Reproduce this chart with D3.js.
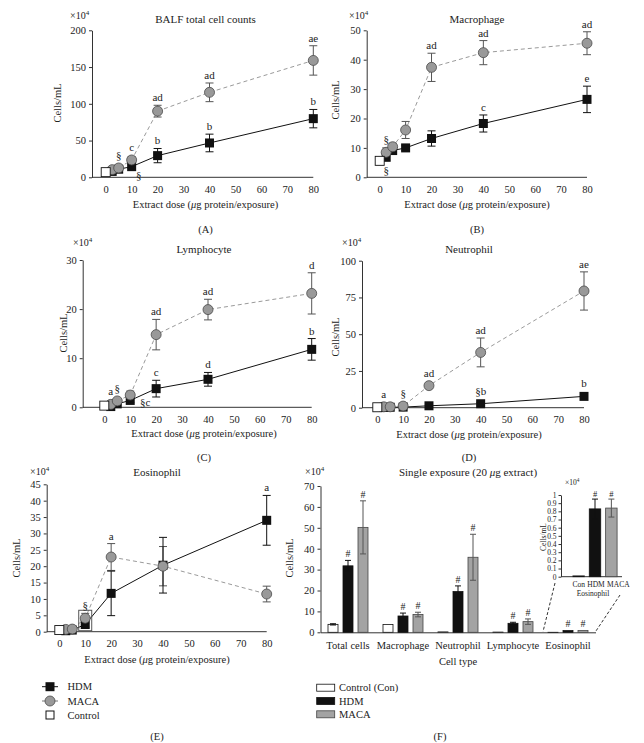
<!DOCTYPE html>
<html><head><meta charset="utf-8">
<script src="https://cdn.jsdelivr.net/npm/d3@7"></script>
<style>
body{margin:0;background:#fff}
svg text{font-family:"Liberation Serif","Times New Roman",serif;fill:#222}
</style>
</head><body>
<svg id="c" width="644" height="743"></svg>
<script>
// ---------- data ----------
const doses = [2.5, 5, 10, 20, 40, 80];
const doseTicks = [0, 10, 20, 30, 40, 50, 60, 70, 80];

// (A) BALF total cell counts
const totalControl = 7;
const totalHDM = [8, 11, 14.5, 29.5, 46.7, 79.8];
const totalHDMErr = [1, 1.5, 2.5, 9.7, 12, 12.5];
const totalMACA = [10.4, 12.7, 23.6, 90, 115.6, 159];
const totalMACAErr = [1.5, 2, 4.5, 8, 12.7, 20];
const totalMACALabels = ["", "§", "c", "ad", "ad", "ae"];
const totalHDMLabels = ["", "", "", "b", "b", "b"];
const totalHDMBelow = ["", "", "§", "", "", ""];
const totalTicks = [0, 50, 100, 150, 200];

// (B) Macrophage
const macroControl = 5.6;
const macroHDM = [6.8, 9.1, 10, 13.2, 18.3, 26.5];
const macroHDMErr = [1, 0.8, 0.9, 2.6, 2.9, 4.5];
const macroMACA = [8.5, 10.4, 16.1, 37.4, 42.4, 45.6];
const macroMACAErr = [1.5, 1.2, 2.9, 4.8, 4.1, 3.9];
const macroMACALabels = ["§", "", "", "ad", "ad", "ad"];
const macroHDMLabels = ["", "", "", "", "c", "e"];
const macroHDMBelow = ["§", "", "", "", "", ""];
const macroTicks = [0, 10, 20, 30, 40, 50];

// (C) Lymphocyte
const lymphoControl = 0.34;
const lymphoHDM = [0.15, 0.7, 1.4, 3.8, 5.7, 11.8];
const lymphoHDMErr = [0.1, 0.2, 0.4, 1.7, 1.4, 2.2];
const lymphoMACA = [0.6, 1.3, 2.5, 14.8, 19.9, 23.2];
const lymphoMACAErr = [0.2, 0.4, 0.8, 3.1, 2.1, 4.2];
const lymphoMACALabels = ["a", "§", "", "ad", "ad", "d"];
const lymphoHDMLabels = ["", "", "", "c", "d", "b"];
const lymphoHDMBelow = ["", "", "§c", "", "", ""];
const lymphoTicks = [0, 10, 20, 30];

// (D) Neutrophil
const neutroControl = 0.3;
const neutroHDM = [0.2, 0.3, 0.4, 1.3, 2.7, 7.7];
const neutroHDMErr = [0.1, 0.1, 0.2, 0.4, 0.8, 1];
const neutroMACA = [0.6, 0.6, 1.1, 15, 37.6, 79.4];
const neutroMACAErr = [0.2, 0.2, 0.4, 1.5, 9.8, 13];
const neutroMACALabels = ["a", "", "§", "ad", "ad", "ae"];
const neutroHDMLabels = ["", "", "", "", "§b", "b"];
const neutroHDMBelow = ["", "", "", "", "", ""];
const neutroTicks = [0, 25, 50, 75, 100];

// (E) Eosinophil
const eosControl = 0.5;
const eosHDM = [0.3, 0.5, 2.2, 11.7, 20.3, 34];
const eosHDMErr = [0.1, 0.1, 0.8, 6.8, 8.5, 7.6];
const eosMACA = [0.7, 0.8, 4.1, 22.8, 20, 11.5];
const eosMACAErr = [0.2, 0.2, 1.5, 4.1, 6, 2.4];
const eosMACALabels = ["", "", "§", "a", "", ""];
const eosHDMLabels = ["", "", "", "", "", "a"];
const eosHDMBelow = ["", "", "", "", "", ""];
const eosTicks = [0, 5, 10, 15, 20, 25, 30, 35, 40, 45];

// (F) Single exposure (20 µg extract)
const cellTypes = ["Total cells", "Macrophage", "Neutrophil", "Lymphocyte", "Eosinophil"];
const singleControl = [3.8, 3.7, 0.2, 0.1, 0.01];
const singleControlErr = [0.3, 0.2, 0.05, 0.03, 0.005];
const singleHDM = [31.8, 7.8, 19.5, 4.3, 0.83];
const singleHDMErr = [2.6, 1.4, 2.7, 0.5, 0.12];
const singleMACA = [50.2, 8.5, 35.9, 5.1, 0.84];
const singleMACAErr = [12.7, 1.1, 11, 1.3, 0.11];
const singleTicks = [0, 10, 20, 30, 40, 50, 60, 70];
const insetGroups = ["Con", "HDM", "MACA"];
const insetValues = [0.01, 0.83, 0.84];
const insetErr = [0, 0.12, 0.11];
const insetTicks = [0, 0.1, 0.2, 0.3, 0.4, 0.5, 0.6, 0.7, 0.8, 0.9, 1];

// ---------- drawing ----------
const svg = d3.select("#c");
const AX = "#333";
const GRAYFILL = "#999";
const GRAYSTROKE = "#4a4a4a";
const FS = 10.5;

function txt(g, s, x, y, size, anchor, rot) {
  const t = g.append("text").attr("x", x).attr("y", y).attr("font-size", size)
    .attr("text-anchor", anchor || "middle").text(s);
  if (rot) t.attr("transform", `rotate(-90,${x},${y})`);
  return t;
}
function times10(g, x, y, size) {
  const t = g.append("text").attr("x", x).attr("y", y).attr("font-size", size).attr("text-anchor", "start");
  t.append("tspan").text("×10");
  t.append("tspan").attr("font-size", size * 0.7).attr("dy", -size * 0.4).text("4");
}
function styleAxis(a, size) {
  a.attr("font-family", null).attr("font-size", size);
  a.selectAll("line").attr("stroke", AX);
  a.selectAll("path").attr("stroke", AX);
  a.selectAll("text").attr("fill", "#222");
}

function linePanel(o) {
  const g = svg.append("g");
  const x = d3.scaleLinear().domain([0, 80]).range([o.x0, o.x1]);
  const y = d3.scaleLinear().domain([0, o.ticks[o.ticks.length - 1]]).range([o.y0, o.y1]);

  const ya = g.append("g").attr("transform", `translate(${o.ax},0)`)
    .call(d3.axisLeft(y).tickValues(o.ticks).tickSize(3).tickPadding(3).tickSizeOuter(0));
  styleAxis(ya, FS);
  const xa = g.append("g").attr("transform", `translate(0,${o.y0})`)
    .call(d3.axisBottom(x).tickValues(doseTicks).tickSize(0).tickPadding(8));
  xa.select(".domain").remove();
  styleAxis(xa, FS);
  g.append("line").attr("x1", o.ax).attr("x2", o.x1).attr("y1", o.y0).attr("y2", o.y0).attr("stroke", AX);

  const hdm = doses.map((d, i) => ({d, v: o.hdm[i], e: o.hdmErr[i]}));
  const maca = doses.map((d, i) => ({d, v: o.maca[i], e: o.macaErr[i]}));
  const line = d3.line().x(p => x(p.d)).y(p => y(p.v));

  g.append("path").attr("d", line(maca)).attr("fill", "none").attr("stroke", "#9a9a9a")
    .attr("stroke-width", 1).attr("stroke-dasharray", "4,3");
  g.append("path").attr("d", line(hdm)).attr("fill", "none").attr("stroke", "#111").attr("stroke-width", 1);

  function errbars(data, color) {
    data.forEach(p => {
      if (p.e <= 0) return;
      const cx = x(p.d), ya1 = y(p.v + p.e), ya2 = y(Math.max(0, p.v - p.e));
      g.append("line").attr("x1", cx).attr("x2", cx).attr("y1", ya1).attr("y2", ya2).attr("stroke", color);
      [ya1, ya2].forEach(yy => g.append("line").attr("x1", cx - 4).attr("x2", cx + 4)
        .attr("y1", yy).attr("y2", yy).attr("stroke", color));
    });
  }
  errbars(maca, "#555");
  errbars(hdm, "#111");

  if (o.box) {
    const bx = x(10), by = y(o.maca[2]);
    g.append("rect").attr("x", bx - 6.5).attr("y", by - 8).attr("width", 13).attr("height", y(0) - by + 7)
      .attr("fill", "none").attr("stroke", "#555").attr("stroke-width", 1);
  }

  g.selectAll(null).data(hdm).join("rect")
    .attr("x", p => x(p.d) - 4.5).attr("y", p => y(p.v) - 4.5).attr("width", 9).attr("height", 9)
    .attr("fill", "#111");
  g.selectAll(null).data(maca).join("circle")
    .attr("cx", p => x(p.d)).attr("cy", p => y(p.v)).attr("r", 5)
    .attr("fill", GRAYFILL).attr("stroke", GRAYSTROKE).attr("stroke-width", 0.8);
  g.append("rect").attr("x", x(0) - 4.5).attr("y", y(o.control) - 4.5).attr("width", 9).attr("height", 9)
    .attr("fill", "#fff").attr("stroke", "#111").attr("stroke-width", 0.9);

  function above(data, labels) {
    data.forEach((p, i) => {
      if (!labels[i]) return;
      const top = Math.min(y(p.v + p.e), y(p.v) - 5);
      txt(g, labels[i], x(p.d), top - 4, 11);
    });
  }
  above(maca, o.macaLab);
  above(hdm, o.hdmLab);
  hdm.forEach((p, i) => {
    if (!o.hdmBelow[i]) return;
    txt(g, o.hdmBelow[i], x(p.d) + o.belowDx, y(p.v) + o.belowDy, 11);
  });

  txt(g, o.title, o.tx, o.ty, 11);
  times10(g, o.mx, o.my, 10);
  txt(g, "Cells/mL", o.lx, o.ly, FS, "middle", true);
  const xt = g.append("text").attr("x", o.tx).attr("y", o.xty).attr("font-size", FS).attr("text-anchor", "middle");
  xt.append("tspan").text("Extract dose (");
  xt.append("tspan").attr("font-style", "italic").text("μ");
  xt.append("tspan").text("g protein/exposure)");
  txt(g, o.letter, o.tx, o.lety, FS);
}

linePanel({title: "BALF total cell counts", letter: "(A)", control: totalControl,
  hdm: totalHDM, hdmErr: totalHDMErr, maca: totalMACA, macaErr: totalMACAErr,
  macaLab: totalMACALabels, hdmLab: totalHDMLabels, hdmBelow: totalHDMBelow, belowDx: 7, belowDy: 12,
  ticks: totalTicks, ax: 92, x0: 105.7, x1: 313.3, y0: 177.3, y1: 30.3,
  tx: 205.5, ty: 22.5, mx: 70, my: 19, lx: 61, ly: 103, xty: 207.5, lety: 232.5});

linePanel({title: "Macrophage", letter: "(B)", control: macroControl,
  hdm: macroHDM, hdmErr: macroHDMErr, maca: macroMACA, macaErr: macroMACAErr,
  macaLab: macroMACALabels, hdmLab: macroHDMLabels, hdmBelow: macroHDMBelow, belowDx: 0, belowDy: 17,
  ticks: macroTicks, ax: 366.7, x0: 379.7, x1: 587, y0: 177.3, y1: 30.3,
  tx: 477, ty: 22.5, mx: 349, my: 19, lx: 339, ly: 100, xty: 207.5, lety: 232.5});

linePanel({title: "Lymphocyte", letter: "(C)", control: lymphoControl,
  hdm: lymphoHDM, hdmErr: lymphoHDMErr, maca: lymphoMACA, macaErr: lymphoMACAErr,
  macaLab: lymphoMACALabels, hdmLab: lymphoHDMLabels, hdmBelow: lymphoHDMBelow, belowDx: 15, belowDy: 6,
  ticks: lymphoTicks, ax: 82.7, x0: 104.3, x1: 311.7, y0: 407.3, y1: 260,
  tx: 204, ty: 252.5, mx: 73, my: 246, lx: 67, ly: 333, xty: 436.5, lety: 460.5});

linePanel({title: "Neutrophil", letter: "(D)", control: neutroControl,
  hdm: neutroHDM, hdmErr: neutroHDMErr, maca: neutroMACA, macaErr: neutroMACAErr,
  macaLab: neutroMACALabels, hdmLab: neutroHDMLabels, hdmBelow: neutroHDMBelow, belowDx: 0, belowDy: 12,
  ticks: neutroTicks, ax: 362, x0: 377.3, x1: 584, y0: 407.7, y1: 260.7,
  tx: 469, ty: 252.5, mx: 342, my: 246, lx: 339, ly: 337, xty: 437.5, lety: 460.5});

linePanel({title: "Eosinophil", letter: "(E)", control: eosControl,
  hdm: eosHDM, hdmErr: eosHDMErr, maca: eosMACA, macaErr: eosMACAErr,
  macaLab: eosMACALabels, hdmLab: eosHDMLabels, hdmBelow: eosHDMBelow, belowDx: 0, belowDy: 12,
  ticks: eosTicks, ax: 46.7, x0: 59.3, x1: 266.7, y0: 631.7, y1: 484.3, box: true,
  tx: 157, ty: 475.5, mx: 30, my: 475, lx: 20, ly: 558, xty: 662.5, lety: 739.5});

// Legend for E
(function () {
  const g = svg.append("g");
  const lx = 50;
  const rows = [686.7, 701, 715];
  g.append("line").attr("x1", lx - 8).attr("x2", lx + 8).attr("y1", rows[0]).attr("y2", rows[0]).attr("stroke", "#111");
  g.append("rect").attr("x", lx - 4.5).attr("y", rows[0] - 4.5).attr("width", 9).attr("height", 9).attr("fill", "#111");
  g.append("line").attr("x1", lx - 8).attr("x2", lx + 8).attr("y1", rows[1]).attr("y2", rows[1]).attr("stroke", "#777");
  g.append("circle").attr("cx", lx).attr("cy", rows[1]).attr("r", 5).attr("fill", GRAYFILL).attr("stroke", GRAYSTROKE).attr("stroke-width", 0.8);
  g.append("rect").attr("x", lx - 4).attr("y", rows[2] - 4).attr("width", 8).attr("height", 8).attr("fill", "#fff").attr("stroke", "#111");
  ["HDM", "MACA", "Control"].forEach((s, i) => txt(g, s, 67.5, rows[i] + 3.5, FS, "start"));
})();

// (F) bar chart
(function () {
  const g = svg.append("g");
  const x = d3.scaleBand().domain(cellTypes).range([320.5, 595.5]).padding(0);
  const y = d3.scaleLinear().domain([0, 70]).range([632.3, 486]);
  const ya = g.append("g").attr("transform", "translate(320.5,0)")
    .call(d3.axisLeft(y).tickValues(singleTicks).tickSize(3).tickPadding(3).tickSizeOuter(0));
  styleAxis(ya, FS);
  const xa = g.append("g").attr("transform", "translate(0,632.3)")
    .call(d3.axisBottom(x).tickSize(0).tickPadding(9).tickSizeOuter(0));
  styleAxis(xa, FS);

  const series = [
    {vals: singleControl, err: singleControlErr, off: -15, fill: "#fff", stroke: "#111", ec: "#111", hash: false},
    {vals: singleHDM, err: singleHDMErr, off: 0, fill: "#111", stroke: "#111", ec: "#111", hash: true},
    {vals: singleMACA, err: singleMACAErr, off: 15, fill: "#a3a3a3", stroke: "#444", ec: "#555", hash: true}
  ];
  const bw = 10;
  series.forEach(s => {
    cellTypes.forEach((c, i) => {
      const cx = x(c) + x.bandwidth() / 2 + s.off;
      const v = s.vals[i], e = s.err[i];
      g.append("rect").attr("x", cx - bw / 2).attr("y", y(v)).attr("width", bw).attr("height", y(0) - y(v))
        .attr("fill", s.fill).attr("stroke", s.stroke).attr("stroke-width", 0.8);
      if (e > 0.2) {
        const y1 = y(v + e), y2 = y(v - e);
        g.append("line").attr("x1", cx).attr("x2", cx).attr("y1", y1).attr("y2", y2).attr("stroke", s.ec);
        [y1, y2].forEach(yy => g.append("line").attr("x1", cx - 3).attr("x2", cx + 3).attr("y1", yy).attr("y2", yy).attr("stroke", s.ec));
      }
      if (s.hash) txt(g, "#", cx, y(v + e) - 3, 10);
    });
  });

  const t = g.append("text").attr("x", 468).attr("y", 475.5).attr("font-size", 11).attr("text-anchor", "middle");
  t.append("tspan").text("Single exposure (20 ");
  t.append("tspan").attr("font-style", "italic").text("μ");
  t.append("tspan").text("g extract)");
  times10(g, 305, 475, 10);
  txt(g, "Cells/mL", 293, 558, FS, "middle", true);
  txt(g, "Cell type", 458, 665, FS);
  txt(g, "(F)", 440, 739.5, FS);

  const rows = [687.7, 701, 714.3];
  const fills = [["#fff", "#111"], ["#111", "#111"], ["#a3a3a3", "#444"]];
  ["Control (Con)", "HDM", "MACA"].forEach((s, i) => {
    g.append("rect").attr("x", 316.7).attr("y", rows[i] - 3.5).attr("width", 18).attr("height", 7)
      .attr("fill", fills[i][0]).attr("stroke", fills[i][1]).attr("stroke-width", 0.8);
    txt(g, s, 339, rows[i] + 3.5, FS, "start");
  });

  // inset
  const ix = d3.scaleBand().domain(insetGroups).range([568, 622]).padding(0.3);
  const iy = d3.scaleLinear().domain([0, 1]).range([576.7, 495]);
  const ia = g.append("g").attr("transform", "translate(561,0)")
    .call(d3.axisLeft(iy).tickValues(insetTicks).tickSize(2.5).tickPadding(2).tickSizeOuter(0).tickFormat(d3.format("~g")));
  styleAxis(ia, 7.5);
  g.append("line").attr("x1", 561).attr("x2", 622).attr("y1", 576.7).attr("y2", 576.7).attr("stroke", AX);
  const ifill = [["#fff", "#111"], ["#111", "#111"], ["#a3a3a3", "#444"]];
  const labShift = [0, 1, 7];
  insetGroups.forEach((c, i) => {
    const bx = ix(c), v = insetValues[i], e = insetErr[i];
    g.append("rect").attr("x", bx).attr("y", iy(v)).attr("width", ix.bandwidth()).attr("height", Math.max(0.8, iy(0) - iy(v)))
      .attr("fill", ifill[i][0]).attr("stroke", ifill[i][1]).attr("stroke-width", 0.8);
    const cx = bx + ix.bandwidth() / 2;
    if (e > 0) {
      const y1 = iy(v + e), y2 = iy(v - e);
      const col = i === 2 ? "#555" : "#111";
      g.append("line").attr("x1", cx).attr("x2", cx).attr("y1", y1).attr("y2", y2).attr("stroke", col);
      [y1, y2].forEach(yy => g.append("line").attr("x1", cx - 3).attr("x2", cx + 3).attr("y1", yy).attr("y2", yy).attr("stroke", col));
      txt(g, "#", cx, y1 - 2.5, 8.5);
    }
    txt(g, c, cx + labShift[i], 587, 7.5);
  });
  txt(g, "Eosinophil", 593, 596, 7.5);
  txt(g, "Cells/mL", 546, 537, 7.5, "middle", true);
  times10(g, 565, 485, 7.5);

  const ex = x("Eosinophil");
  g.append("line").attr("x1", 555).attr("y1", 583).attr("x2", ex + x.bandwidth() / 2 - 25).attr("y2", 631.7)
    .attr("stroke", "#333").attr("stroke-dasharray", "3,2");
  g.append("line").attr("x1", 620).attr("y1", 595).attr("x2", ex + x.bandwidth()).attr("y2", 631.7)
    .attr("stroke", "#333").attr("stroke-dasharray", "3,2");
})();
</script>
</body></html>
